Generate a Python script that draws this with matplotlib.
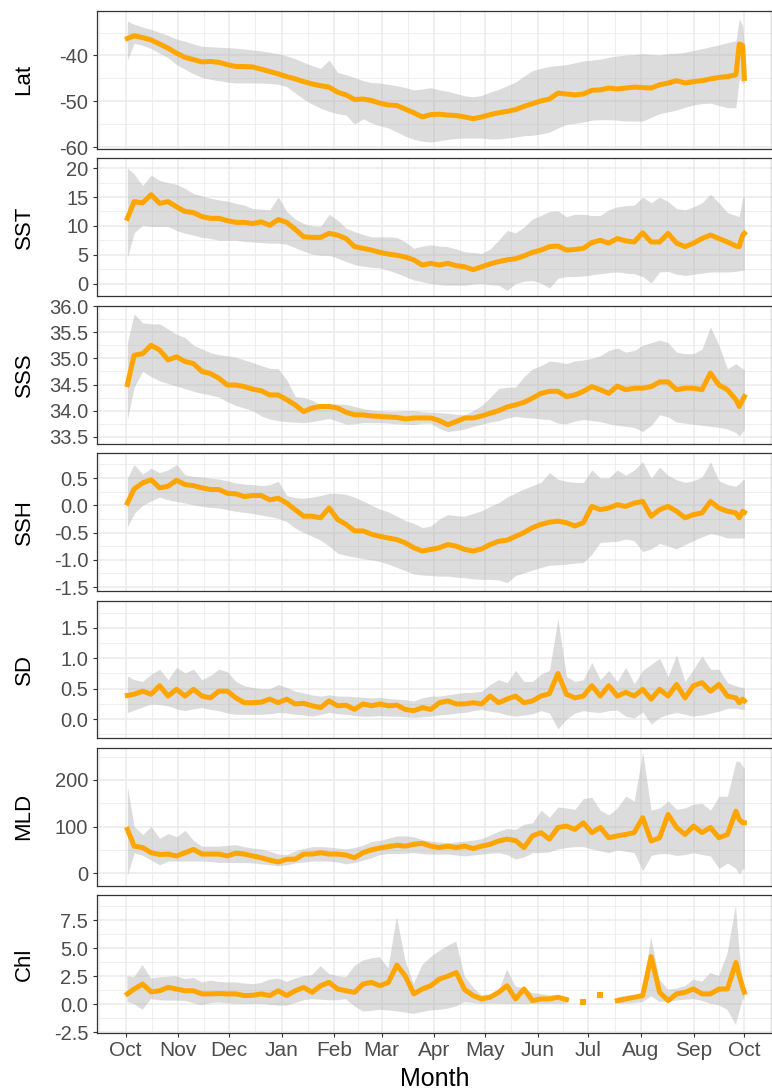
import numpy as np
import matplotlib
matplotlib.use("Agg")
import matplotlib.pyplot as plt

plt.rcParams['font.family'] = ['Liberation Sans', 'DejaVu Sans']
plt.rcParams['axes.unicode_minus'] = False

nan = np.nan

# days since 1 Oct (x grid shared by every panel)
DAY = [1, 5, 10, 15, 20, 25, 30, 35, 40, 45,
       50, 55, 60, 65, 70, 75, 80, 85, 90, 95,
       100, 105, 110, 115, 120, 125, 130, 135, 140, 145,
       150, 155, 160, 165, 170, 175, 180, 185, 190, 195,
       200, 205, 210, 215, 220, 225, 230, 235, 240, 245,
       250, 255, 260, 265, 270, 275, 280, 285, 290, 295,
       300, 305, 310, 315, 320, 325, 330, 335, 340, 345,
       350, 355, 360, 362, 364, 365]

MONTH_START = [0, 31, 61, 92, 123, 151, 182, 212, 243, 273, 304, 335, 365]
MONTHS = ["Oct", "Nov", "Dec", "Jan", "Feb", "Mar", "Apr", "May", "Jun",
          "Jul", "Aug", "Sep", "Oct"]

LAT_MEAN = [-36.3, -35.7, -36.1, -36.6, -37.5, -38.4, -39.5, -40.4, -40.9, -41.4,
            -41.3, -41.5, -42.0, -42.4, -42.4, -42.5, -43.0, -43.5, -44.0, -44.6,
            -45.1, -45.7, -46.2, -46.6, -46.9, -48.0, -48.6, -49.6, -49.5, -49.8,
            -50.4, -50.8, -50.9, -51.7, -52.5, -53.4, -52.9, -52.8, -53.0, -53.1,
            -53.4, -53.8, -53.4, -52.9, -52.5, -52.2, -51.8, -51.1, -50.5, -49.9,
            -49.5, -48.2, -48.4, -48.6, -48.4, -47.6, -47.5, -47.1, -47.3, -47.1,
            -46.9, -47.0, -47.1, -46.4, -46.0, -45.5, -46.0, -45.7, -45.5, -45.1,
            -44.8, -44.6, -44.2, -37.5, -37.8, -45.0]
LAT_HI = [-32.5, -33.2, -33.8, -34.3, -35.0, -35.6, -36.4, -36.9, -37.5, -38.0,
          -38.1, -38.2, -38.3, -38.4, -38.6, -38.8, -39.0, -39.3, -39.6, -40.1,
          -40.7, -41.5, -42.2, -42.8, -41.0, -43.7, -44.2, -44.8, -45.5, -45.9,
          -46.0, -46.3, -46.6, -47.0, -47.5, -47.3, -47.0, -47.5, -47.8, -48.3,
          -48.8, -49.0, -48.7, -48.0, -47.4, -46.6, -45.8, -44.5, -43.3, -42.8,
          -42.4, -42.2, -42.0, -41.6, -41.2, -41.0, -40.8, -40.4, -40.1, -39.9,
          -39.8, -39.6, -39.8, -39.9, -39.6, -39.5, -39.3, -38.9, -38.5, -38.1,
          -37.7, -37.2, -36.8, -32.0, -33.5, -38.0]
LAT_LO = [-41.0, -37.3, -37.8, -38.5, -39.5, -40.5, -42.0, -43.0, -44.0, -44.8,
          -45.2, -45.5, -45.8, -46.0, -46.0, -46.0, -46.0, -46.1, -46.3, -46.8,
          -48.2, -49.5, -50.6, -51.5, -52.2, -52.7, -53.0, -55.0, -53.8, -54.7,
          -55.3, -55.8, -56.7, -57.6, -58.3, -58.7, -58.9, -58.6, -58.3, -58.1,
          -58.0, -58.0, -58.0, -58.2, -58.2, -58.0, -57.8, -57.5, -57.4, -57.1,
          -56.7, -55.8, -55.0, -54.8, -54.5, -54.1, -54.0, -54.0, -54.1, -54.3,
          -54.3, -54.3, -53.5, -52.7, -52.3, -51.9, -51.3, -50.8, -50.5, -50.4,
          -50.9, -51.4, -51.4, -45.0, -46.0, -46.0]

SST_MEAN = [11.3, 14.2, 14.0, 15.4, 13.9, 14.2, 13.3, 12.5, 12.3, 11.6,
            11.3, 11.3, 10.9, 10.6, 10.6, 10.4, 10.7, 10.1, 11.1, 10.6,
            9.4, 8.1, 8.0, 8.0, 8.7, 8.4, 7.8, 6.4, 6.1, 5.8,
            5.4, 5.1, 4.9, 4.6, 4.1, 3.2, 3.5, 3.2, 3.5, 3.1,
            2.9, 2.4, 2.9, 3.4, 3.8, 4.1, 4.3, 4.8, 5.4, 5.8,
            6.4, 6.5, 5.8, 5.9, 6.1, 7.1, 7.5, 7.0, 7.8, 7.4,
            7.2, 8.8, 7.2, 7.2, 8.7, 7.0, 6.4, 7.0, 7.8, 8.4,
            7.8, 7.2, 6.5, 6.4, 8.4, 8.7]
SST_HI = [20.0, 19.0, 17.0, 18.8, 17.9, 17.5, 17.2, 16.5, 15.6, 15.2,
          14.8, 14.5, 14.3, 13.9, 13.6, 13.0, 12.9, 12.8, 15.0, 12.5,
          11.2, 10.4, 10.0, 9.9, 12.0, 11.0, 9.6, 9.0, 8.5, 8.1,
          8.1, 8.1, 8.0, 7.2, 6.1, 6.5, 6.7, 6.5, 6.4, 6.0,
          5.5, 5.4, 5.2, 6.0, 7.5, 9.2, 8.8, 9.8, 11.2, 11.8,
          12.5, 12.6, 11.6, 12.0, 12.0, 11.8, 11.8, 12.8, 13.3, 13.5,
          13.6, 15.0, 14.0, 15.0, 14.2, 13.0, 12.8, 13.3, 14.0, 15.5,
          14.0, 12.3, 11.8, 11.6, 15.0, 15.1]
SST_LO = [4.5, 8.8, 10.1, 9.9, 9.9, 9.9, 9.2, 8.7, 8.4, 8.0,
          7.8, 7.5, 7.5, 7.5, 7.3, 7.2, 7.1, 7.0, 7.0, 6.8,
          6.2, 5.6, 5.1, 4.9, 4.9, 4.4, 3.8, 3.3, 3.0, 2.8,
          2.7, 2.3, 1.8, 1.2, 0.6, 0.3, 0.0, -0.2, -0.3, -0.3,
          -0.3, -0.1, 0.0, -0.2, -0.3, -1.2, 0.0, 0.4, 0.5, 0.1,
          -0.8, 0.9, 1.2, 1.2, 1.3, 1.5, 1.7, 1.9, 2.0, 1.8,
          1.7, 1.2, 0.1, 2.0, 2.1, 1.6, 1.4, 1.6, 1.8, 2.0,
          2.0, 2.0, 2.1, 2.2, 2.3, 2.3]

SSS_MEAN = [34.50, 35.06, 35.09, 35.25, 35.16, 34.97, 35.03, 34.94, 34.90, 34.75,
            34.71, 34.62, 34.49, 34.49, 34.46, 34.41, 34.38, 34.30, 34.30, 34.21,
            34.11, 33.98, 34.05, 34.08, 34.08, 34.05, 33.97, 33.92, 33.92, 33.90,
            33.89, 33.88, 33.87, 33.84, 33.86, 33.86, 33.86, 33.81, 33.73, 33.79,
            33.86, 33.86, 33.90, 33.95, 34.00, 34.07, 34.11, 34.16, 34.24, 34.33,
            34.37, 34.37, 34.27, 34.30, 34.37, 34.46, 34.40, 34.33, 34.47, 34.40,
            34.43, 34.43, 34.46, 34.55, 34.55, 34.40, 34.43, 34.43, 34.40, 34.72,
            34.49, 34.40, 34.21, 34.08, 34.21, 34.27]
SSS_HI = [35.30, 35.85, 35.68, 35.66, 35.66, 35.56, 35.46, 35.40, 35.25, 35.18,
          35.11, 35.07, 35.05, 35.02, 34.97, 34.92, 34.86, 34.81, 34.80, 34.59,
          34.27, 34.25, 34.20, 34.11, 34.13, 34.13, 34.12, 34.08, 34.04, 34.01,
          34.00, 33.99, 33.99, 34.00, 34.00, 33.98, 33.97, 33.96, 33.95, 33.93,
          33.92, 34.00, 34.10, 34.25, 34.42, 34.45, 34.45, 34.65, 34.80, 34.86,
          34.95, 34.93, 34.90, 34.95, 34.97, 35.00, 35.05, 35.15, 35.20, 35.12,
          35.15, 35.25, 35.30, 35.35, 35.30, 35.12, 35.09, 35.09, 35.18, 35.60,
          35.25, 34.80, 34.90, 34.85, 34.80, 34.80]
SSS_LO = [33.83, 34.45, 34.75, 34.65, 34.57, 34.52, 34.47, 34.42, 34.37, 34.33,
          34.30, 34.26, 34.17, 34.10, 34.05, 34.00, 33.90, 33.84, 33.81, 33.79,
          33.78, 33.77, 33.79, 33.82, 33.85, 33.80, 33.74, 33.75, 33.77, 33.77,
          33.77, 33.76, 33.75, 33.74, 33.73, 33.76, 33.76, 33.66, 33.60, 33.62,
          33.65, 33.70, 33.74, 33.78, 33.81, 33.86, 33.89, 33.87, 33.86, 33.84,
          33.83, 33.76, 33.75, 33.80, 33.83, 33.81, 33.79, 33.75, 33.72, 33.70,
          33.68, 33.60, 33.72, 33.92, 33.88, 33.78, 33.76, 33.74, 33.72, 33.70,
          33.68, 33.65, 33.58, 33.51, 33.60, 33.64]

SSH_MEAN = [0.04, 0.30, 0.41, 0.47, 0.32, 0.35, 0.46, 0.38, 0.36, 0.32,
            0.29, 0.29, 0.22, 0.21, 0.16, 0.18, 0.18, 0.10, 0.13, 0.04,
            -0.08, -0.20, -0.20, -0.23, -0.05, -0.26, -0.35, -0.47, -0.47, -0.53,
            -0.57, -0.60, -0.63, -0.69, -0.78, -0.84, -0.81, -0.78, -0.72, -0.75,
            -0.81, -0.84, -0.80, -0.72, -0.66, -0.64, -0.57, -0.50, -0.41, -0.35,
            -0.31, -0.29, -0.32, -0.38, -0.32, -0.02, -0.08, -0.05, 0.01, -0.02,
            0.04, 0.07, -0.20, -0.08, -0.02, -0.11, -0.23, -0.17, -0.14, 0.07,
            -0.05, -0.11, -0.14, -0.23, -0.11, -0.13]
SSH_HI = [0.50, 0.75, 0.57, 0.68, 0.60, 0.65, 0.75, 0.56, 0.53, 0.52,
          0.50, 0.48, 0.45, 0.41, 0.39, 0.38, 0.36, 0.38, 0.44, 0.18,
          0.14, 0.13, 0.15, 0.18, 0.22, 0.22, 0.20, 0.15, 0.08, 0.00,
          -0.07, -0.12, -0.20, -0.28, -0.33, -0.41, -0.38, -0.25, -0.17, -0.19,
          -0.20, -0.15, -0.10, -0.02, 0.05, 0.15, 0.23, 0.30, 0.36, 0.42,
          0.60, 0.48, 0.44, 0.42, 0.42, 0.65, 0.50, 0.50, 0.65, 0.55,
          0.65, 0.80, 0.50, 0.70, 0.55, 0.47, 0.42, 0.45, 0.52, 0.80,
          0.45, 0.38, 0.35, 0.40, 0.47, 0.47]
SSH_LO = [-0.40, -0.15, 0.00, 0.08, 0.15, 0.10, 0.07, 0.04, 0.01, -0.02,
          -0.04, -0.05, -0.08, -0.11, -0.13, -0.15, -0.18, -0.21, -0.24, -0.30,
          -0.42, -0.50, -0.57, -0.64, -0.75, -0.88, -0.92, -0.95, -0.98, -1.00,
          -1.03, -1.08, -1.14, -1.20, -1.26, -1.28, -1.29, -1.30, -1.30, -1.32,
          -1.33, -1.35, -1.36, -1.36, -1.37, -1.42, -1.29, -1.24, -1.19, -1.14,
          -1.10, -1.09, -1.08, -1.06, -1.05, -0.90, -0.68, -0.67, -0.66, -0.62,
          -0.65, -0.85, -0.80, -0.70, -0.75, -0.80, -0.72, -0.65, -0.58, -0.52,
          -0.55, -0.60, -0.60, -0.60, -0.60, -0.60]

SD_MEAN = [0.39, 0.41, 0.46, 0.41, 0.55, 0.38, 0.49, 0.38, 0.49, 0.38,
           0.35, 0.46, 0.46, 0.35, 0.27, 0.27, 0.28, 0.33, 0.27, 0.33,
           0.25, 0.26, 0.22, 0.19, 0.30, 0.22, 0.23, 0.16, 0.25, 0.22,
           0.25, 0.22, 0.23, 0.16, 0.14, 0.19, 0.16, 0.27, 0.30, 0.25,
           0.25, 0.27, 0.25, 0.38, 0.27, 0.33, 0.38, 0.27, 0.30, 0.38,
           0.42, 0.75, 0.41, 0.35, 0.38, 0.55, 0.38, 0.55, 0.38, 0.44,
           0.38, 0.49, 0.33, 0.49, 0.38, 0.57, 0.35, 0.55, 0.60, 0.46,
           0.57, 0.38, 0.35, 0.27, 0.33, 0.30]
SD_HI = [0.71, 0.65, 0.62, 0.74, 0.82, 0.65, 0.85, 0.76, 0.82, 0.65,
         0.72, 0.82, 0.78, 0.62, 0.55, 0.52, 0.50, 0.50, 0.57, 0.52,
         0.46, 0.43, 0.40, 0.38, 0.40, 0.38, 0.38, 0.37, 0.36, 0.35,
         0.36, 0.34, 0.33, 0.32, 0.30, 0.35, 0.38, 0.38, 0.40, 0.42,
         0.44, 0.44, 0.46, 0.57, 0.65, 0.60, 0.80, 0.62, 0.62, 0.74,
         0.80, 1.65, 0.70, 0.62, 0.65, 0.93, 0.65, 0.80, 0.62, 0.85,
         0.58, 0.80, 0.90, 1.00, 0.70, 1.06, 0.62, 0.82, 1.04, 0.82,
         0.82, 0.60, 0.55, 0.53, 0.52, 0.52]
SD_LO = [0.11, 0.15, 0.20, 0.25, 0.24, 0.22, 0.17, 0.14, 0.17, 0.19,
         0.16, 0.14, 0.10, 0.08, 0.08, 0.08, 0.08, 0.09, 0.11, 0.10,
         0.08, 0.07, 0.05, 0.08, 0.11, 0.09, 0.08, 0.06, 0.05, 0.05,
         0.06, 0.05, 0.05, 0.04, 0.03, 0.04, 0.05, 0.07, 0.08, 0.10,
         0.11, 0.14, 0.16, 0.13, 0.11, 0.07, 0.05, 0.07, 0.09, 0.14,
         0.10, -0.16, 0.00, 0.10, 0.14, 0.12, 0.11, 0.14, 0.15, 0.05,
         0.02, 0.12, -0.08, 0.03, 0.08, 0.11, 0.08, 0.05, 0.07, 0.10,
         0.13, 0.18, 0.18, 0.17, 0.16, 0.16]

MLD_MEAN = [94, 58, 55, 44, 40, 41, 37, 44, 51, 41,
            41, 41, 37, 43, 41, 37, 33, 28, 24, 30,
            30, 41, 41, 44, 41, 41, 39, 33, 44, 50,
            54, 57, 60, 58, 62, 64, 58, 55, 58, 55,
            58, 53, 58, 62, 69, 73, 70, 55, 80, 87,
            73, 98, 101, 94, 108, 87, 98, 76, 80, 83,
            87, 119, 69, 76, 126, 98, 83, 101, 87, 98,
            76, 83, 133, 115, 108, 108]
MLD_HI = [186, 100, 83, 100, 75, 85, 78, 92, 70, 58,
          58, 58, 60, 61, 57, 54, 52, 47, 41, 40,
          48, 53, 57, 57, 56, 54, 52, 55, 60, 68,
          70, 75, 80, 80, 78, 72, 69, 67, 65, 67,
          69, 71, 74, 82, 90, 96, 94, 105, 108, 135,
          120, 142, 140, 137, 160, 163, 135, 125, 140, 165,
          155, 260, 135, 140, 155, 137, 140, 148, 150, 135,
          165, 165, 240, 240, 229, 225]
MLD_LO = [-5, 44, 38, 28, 18, 26, 26, 26, 26, 26,
          25, 23, 23, 23, 23, 22, 20, 18, 16, 18,
          22, 24, 26, 26, 26, 24, 20, 23, 28, 33,
          40, 42, 42, 43, 44, 42, 41, 41, 41, 39,
          37, 39, 41, 43, 44, 40, 30, 35, 44, 44,
          46, 52, 55, 57, 57, 52, 48, 44, 50, 47,
          44, 5, 38, 42, 42, 38, 40, 44, 40, 37,
          10, 22, 10, -2, 9, 10]

CHL_MEAN = [0.92, 1.36, 1.80, 1.10, 1.20, 1.50, 1.36, 1.20, 1.20, 0.92,
            0.92, 0.95, 0.92, 0.92, 0.77, 0.80, 0.92, 0.77, 1.20, 0.77,
            1.20, 1.50, 1.06, 1.65, 1.95, 1.36, 1.20, 1.06, 1.80, 1.95,
            1.65, 1.95, 3.50, 2.50, 0.92, 1.36, 1.65, 2.24, 2.50, 2.83,
            1.30, 0.77, 0.47, 0.62, 1.06, 1.65, 0.47, 1.36, 0.32, 0.47,
            0.47, 0.62, 0.41, nan, 0.24, nan, 0.83, nan, 0.32, 0.47,
            0.62, 0.77, 4.25, 1.06, 0.32, 0.92, 1.06, 1.36, 0.92, 0.92,
            1.36, 1.36, 3.72, 2.54, 1.50, 1.06]
CHL_HI = [2.50, 2.40, 3.50, 2.30, 2.40, 2.45, 2.50, 2.25, 2.35, 1.95,
          2.10, 2.00, 1.95, 1.95, 1.85, 1.80, 1.90, 2.20, 2.30, 2.00,
          2.30, 2.50, 2.60, 3.40, 2.70, 2.50, 2.40, 3.40, 3.90, 4.10,
          4.20, 3.20, 7.80, 3.90, 1.80, 3.50, 4.20, 4.75, 5.20, 5.60,
          2.50, 1.50, 0.80, 0.85, 1.10, 3.10, 1.60, 1.40, 1.00, 0.90,
          0.80, 0.75, 0.65, nan, 0.40, nan, 0.90, nan, 0.60, 0.75,
          0.80, 0.90, 6.00, 2.20, 1.30, 1.40, 1.60, 2.20, 2.00, 2.80,
          2.50, 4.50, 8.80, 5.00, 2.20, 1.80]
CHL_LO = [0.20, 0.00, -0.50, 0.45, 0.35, 0.32, 0.32, 0.30, 0.10, -0.10,
          0.10, 0.15, 0.08, 0.03, 0.03, 0.03, 0.03, -0.05, -0.12, -0.12,
          0.10, 0.35, 0.45, 0.40, 0.35, 0.35, 0.45, -0.20, -0.65, -0.60,
          -0.50, -0.55, -0.65, -0.75, -0.86, -0.70, -0.56, -0.50, -0.40, -0.20,
          0.18, 0.10, 0.03, 0.05, 0.05, 0.03, 0.03, 0.03, 0.03, 0.03,
          0.03, 0.03, 0.03, nan, 0.05, nan, 0.05, nan, 0.03, 0.05,
          0.10, 0.20, 0.70, 0.20, 0.25, 0.32, 0.40, 0.45, 0.30, 0.05,
          -0.10, -0.50, -1.85, -0.70, 0.40, 0.50]

# name, mean, lo, hi, y limits, y ticks, tick labels
panels = [
    ("Lat", LAT_MEAN, LAT_LO, LAT_HI, (-60.35, -30.3), [-60, -50, -40], ["-60", "-50", "-40"]),
    ("SST", SST_MEAN, SST_LO, SST_HI, (-2.2, 21.7), [0, 5, 10, 15, 20], ["0", "5", "10", "15", "20"]),
    ("SSS", SSS_MEAN, SSS_LO, SSS_HI, (33.37, 36.005), [33.5, 34.0, 34.5, 35.0, 35.5, 36.0],
     ["33.5", "34.0", "34.5", "35.0", "35.5", "36.0"]),
    ("SSH", SSH_MEAN, SSH_LO, SSH_HI, (-1.573, 0.956), [-1.5, -1.0, -0.5, 0.0, 0.5],
     ["-1.5", "-1.0", "-0.5", "0.0", "0.5"]),
    ("SD", SD_MEAN, SD_LO, SD_HI, (-0.315, 1.946), [0.0, 0.5, 1.0, 1.5], ["0.0", "0.5", "1.0", "1.5"]),
    ("MLD", MLD_MEAN, MLD_LO, MLD_HI, (-27, 268.4), [0, 100, 200], ["0", "100", "200"]),
    ("Chl", CHL_MEAN, CHL_LO, CHL_HI, (-2.59, 9.72), [-2.5, 0.0, 2.5, 5.0, 7.5],
     ["-2.5", "0.0", "2.5", "5.0", "7.5"]),
]

W_PX, H_PX = 772, 1090
fig = plt.figure(figsize=(W_PX / 100, H_PX / 100), dpi=100)
left = 96.7 / W_PX
width = 1 - left
ph = 137.8
xmin, xmax = -17.1, 381.3

def midpoints(b, lo, hi):
    b = list(b)
    step0 = b[1] - b[0]
    step1 = b[-1] - b[-2]
    ext = [b[0] - step0] + b + [b[-1] + step1]
    m = [(ext[k] + ext[k + 1]) / 2 for k in range(len(ext) - 1)]
    return [v for v in m if lo <= v <= hi]

x = np.array(DAY, float)
for i, (name, mean, lo, hi, ylim, yt, ytl) in enumerate(panels):
    top = 11 + 147.4 * i
    ax = fig.add_axes([left, 1 - (top + ph) / H_PX, width, ph / H_PX])
    m = np.array(mean, float)
    ax.fill_between(x, lo, hi, color='#b3b3b3', alpha=0.45, linewidth=0, zorder=2)
    ax.plot(x, m, color='#FFA500', lw=3.6, solid_joinstyle='round', zorder=3)
    # lone days between gaps
    prev = np.r_[nan, m[:-1]]
    nxt = np.r_[m[1:], nan]
    iso = np.isfinite(m) & ~np.isfinite(prev) & ~np.isfinite(nxt)
    if iso.any():
        ax.plot(x[iso], m[iso], 's', color='#FFA500', ms=4.5, mew=0, zorder=3)

    ax.set_xlim(xmin, xmax)
    ax.set_ylim(*ylim)
    ax.set_xticks(MONTH_START)
    ax.set_xticks(midpoints(MONTH_START, xmin, xmax), minor=True)
    ax.set_yticks(yt)
    ax.set_yticklabels(ytl)
    ax.set_yticks(midpoints(yt, ylim[0], ylim[1]), minor=True)
    ax.grid(which='major', color='#ebebeb', lw=1.1, zorder=0)
    ax.grid(which='minor', color='#ebebeb', lw=0.55, zorder=0)
    ax.set_axisbelow(True)
    for s in ax.spines.values():
        s.set_color('#333333')
        s.set_linewidth(0.9)
    ax.tick_params(axis='y', which='major', length=2.75, width=0.8, color='#333333',
                   labelsize=14.5, labelcolor='#4d4d4d', pad=3.3)
    ax.tick_params(axis='both', which='minor', length=0)
    if i < len(panels) - 1:
        ax.tick_params(axis='x', which='major', length=0, labelbottom=False)
    else:
        ax.set_xticklabels(MONTHS)
        ax.tick_params(axis='x', which='major', length=2.75, width=0.8, color='#333333',
                       labelsize=15, labelcolor='#4d4d4d', pad=3)
    fig.text(24 / W_PX, 1 - (top + ph / 2) / H_PX, name, rotation=90,
             ha='center', va='center', fontsize=16, color='black')

fig.text((96.7 + 772) / 2 / W_PX, 1 - 1079 / H_PX, "Month", ha='center', va='center',
         fontsize=18, color='black')

fig.savefig("out.png", dpi=100)
